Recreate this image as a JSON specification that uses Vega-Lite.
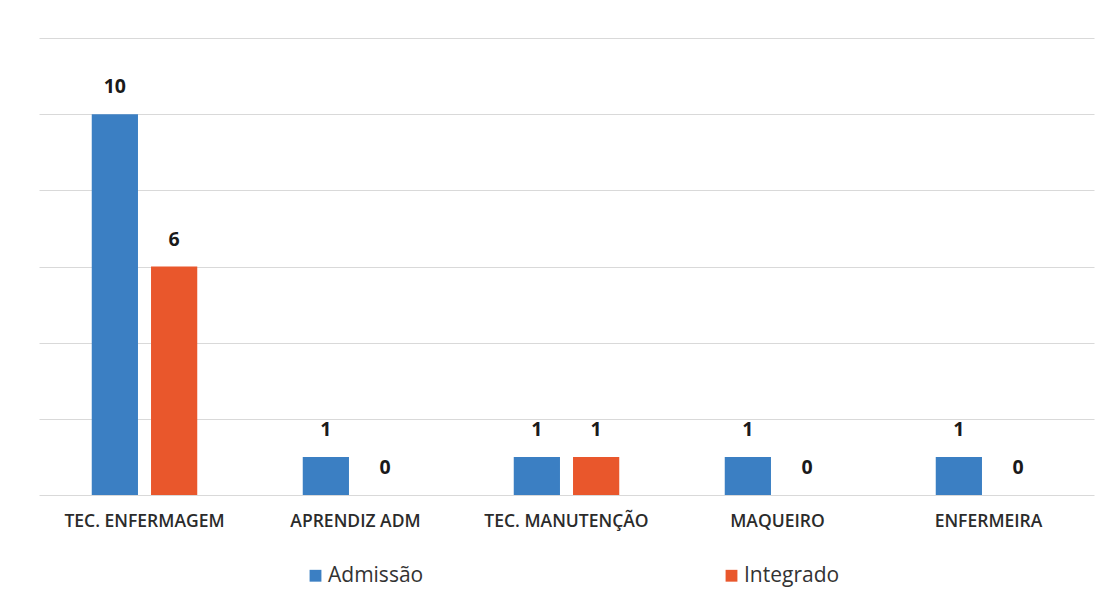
{
  "$schema": "https://vega.github.io/schema/vega-lite/v6.json",
  "width": 1055,
  "height": 457,
  "padding": {"left": 39, "top": 38, "right": 24, "bottom": 10},
  "background": "white",
  "config": {"view": {"stroke": null}, "font": "Open Sans"},
  "data": {"values": [
    {"cargo": "TEC. ENFERMAGEM", "serie": "Admissão", "valor": 10},
    {"cargo": "TEC. ENFERMAGEM", "serie": "Integrado", "valor": 6},
    {"cargo": "APRENDIZ ADM", "serie": "Admissão", "valor": 1},
    {"cargo": "APRENDIZ ADM", "serie": "Integrado", "valor": 0},
    {"cargo": "TEC. MANUTENÇÃO", "serie": "Admissão", "valor": 1},
    {"cargo": "TEC. MANUTENÇÃO", "serie": "Integrado", "valor": 1},
    {"cargo": "MAQUEIRO", "serie": "Admissão", "valor": 1},
    {"cargo": "MAQUEIRO", "serie": "Integrado", "valor": 0},
    {"cargo": "ENFERMEIRA", "serie": "Admissão", "valor": 1},
    {"cargo": "ENFERMEIRA", "serie": "Integrado", "valor": 0}
  ]},
  "encoding": {
    "x": {"field": "cargo", "type": "nominal", "sort": null,
      "scale": {"paddingInner": 0.5, "paddingOuter": 0.25},
      "axis": {"title": null, "labelAngle": 0, "domain": false, "ticks": false, "labelPadding": 17, "labelDx": -3, "labelFontSize": 17.5, "labelFont": "Open Sans", "labelFontWeight": 600, "labelColor": "#2b2b2b"}},
    "xOffset": {"field": "serie", "type": "nominal", "scale": {"paddingInner": 0.22, "paddingOuter": 0}},
    "y": {"field": "valor", "type": "quantitative",
      "scale": {"domain": [0, 12], "nice": false},
      "axis": {"title": null, "labels": false, "ticks": false, "domain": false, "values": [0, 2, 4, 6, 8, 10, 12], "grid": true, "gridColor": "#d9d9d9", "gridWidth": 1}}
  },
  "layer": [
    {"mark": {"type": "bar"},
      "encoding": {"color": {"field": "serie", "type": "nominal",
        "scale": {"domain": ["Admissão", "Integrado"], "range": ["#3b7fc3", "#e9572c"]},
        "legend": {"title": null, "orient": "none", "direction": "horizontal", "legendX": 266, "legendY": 527, "columnPadding": 297, "symbolType": "square", "symbolSize": 140, "symbolStrokeWidth": 0, "labelFontSize": 21, "labelFont": "Open Sans", "labelColor": "#333333", "labelOffset": 2}}}},
    {"mark": {"type": "text", "baseline": "alphabetic", "dy": -21, "fontSize": 19.5, "fontWeight": "bold", "font": "Open Sans", "color": "#1a1a1a"},
      "encoding": {"text": {"field": "valor", "type": "quantitative"}}}
  ]
}
